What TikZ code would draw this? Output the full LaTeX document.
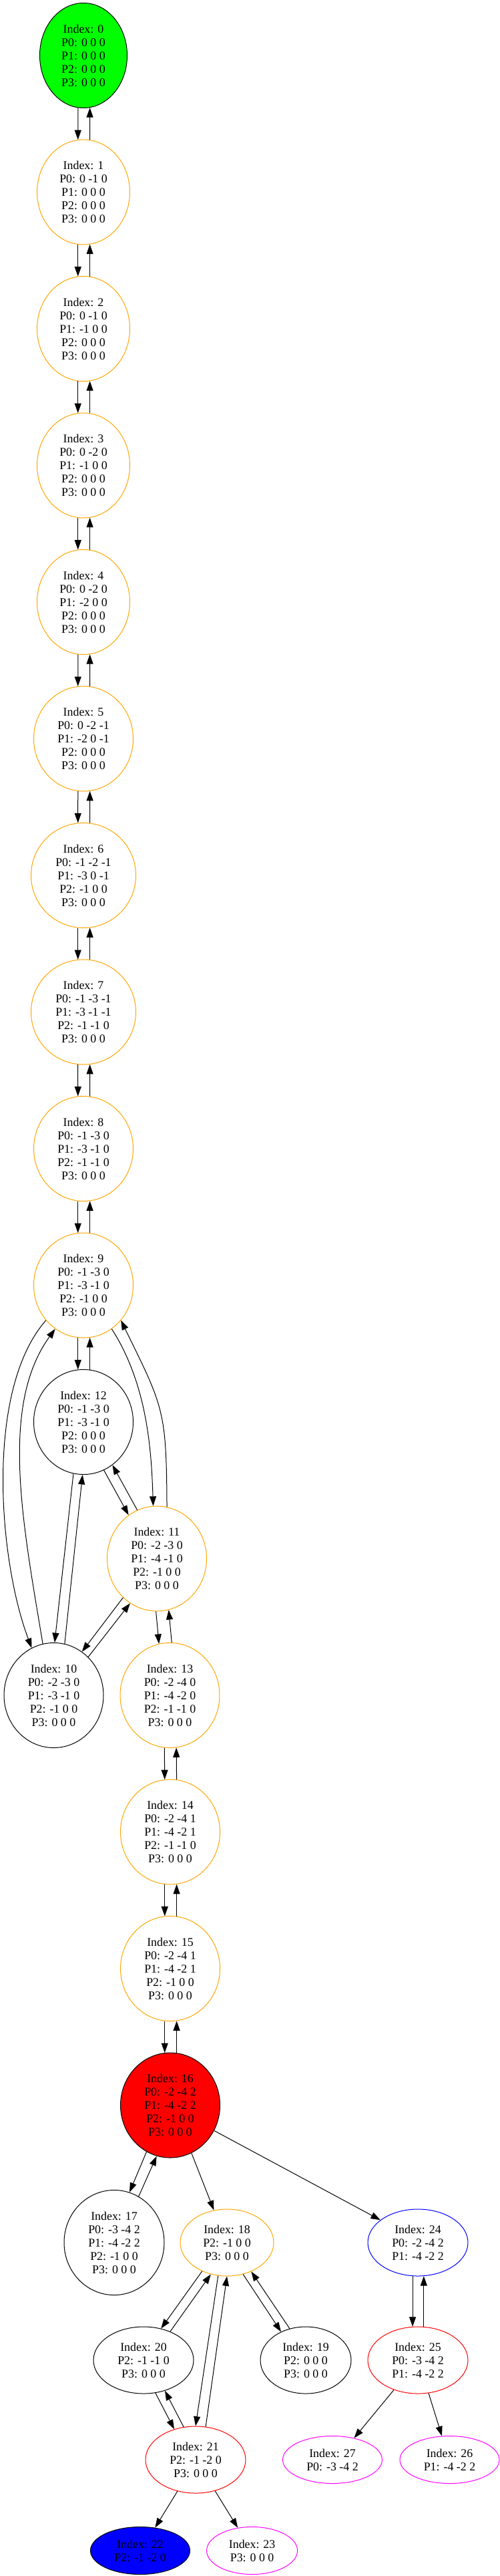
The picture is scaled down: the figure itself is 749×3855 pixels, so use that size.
\documentclass[tikz,border=0pt]{standalone}
\usepackage{fontspec}
\setmainfont{Liberation Serif}
\usetikzlibrary{shapes.geometric,arrows.meta}
\definecolor{gvorange}{HTML}{FFA500}
\definecolor{gvgreen}{HTML}{00FF00}
\definecolor{gvred}{HTML}{FF0000}
\definecolor{gvblue}{HTML}{0000FF}
\definecolor{gvmagenta}{HTML}{FF00FF}
\newcommand\vpair[3]{%
  \draw[ed] (#1.{-90-#3}) -- (#2.{90+#3});
  \draw[ed] (#2.{90-#3}) -- (#1.{-90+#3});}
\begin{document}
\begin{tikzpicture}[x=0.75pt,y=-0.75pt,
  gv/.style={ellipse, draw, line width=0.75pt, inner sep=0pt, align=center,
             font=\fontsize{13.4}{15}\selectfont},
  rfive/.style={minimum width=#1, minimum height=117.75pt},
  rthree/.style={minimum width=#1, minimum height=75pt},
  rtwo/.style={minimum width=#1, minimum height=53.25pt},
  org/.style={draw=gvorange},
  redb/.style={draw=gvred},
  mag/.style={draw=gvmagenta},
  ed/.style={-{Triangle[length=10.8pt,width=7.5pt]}, line width=0.75pt}
]
\useasboundingbox (0,0) rectangle (749,3855);

\node[gv,rfive=98.25pt,fill=gvgreen] (n0) at (125,83) {Index: 0\\P0: 0 0 0\\P1: 0 0 0\\P2: 0 0 0\\P3: 0 0 0};
\node[gv,org,rfive=104.25pt] (n1) at (125,287.5) {Index: 1\\P0: 0 -1 0\\P1: 0 0 0\\P2: 0 0 0\\P3: 0 0 0};
\node[gv,org,rfive=104.25pt] (n2) at (125,492) {Index: 2\\P0: 0 -1 0\\P1: -1 0 0\\P2: 0 0 0\\P3: 0 0 0};
\node[gv,org,rfive=104.25pt] (n3) at (125,696.5) {Index: 3\\P0: 0 -2 0\\P1: -1 0 0\\P2: 0 0 0\\P3: 0 0 0};
\node[gv,org,rfive=104.25pt] (n4) at (125,901) {Index: 4\\P0: 0 -2 0\\P1: -2 0 0\\P2: 0 0 0\\P3: 0 0 0};
\node[gv,org,rfive=111.75pt] (n5) at (125,1105.5) {Index: 5\\P0: 0 -2 -1\\P1: -2 0 -1\\P2: 0 0 0\\P3: 0 0 0};
\node[gv,org,rfive=117.75pt] (n6) at (125,1310) {Index: 6\\P0: -1 -2 -1\\P1: -3 0 -1\\P2: -1 0 0\\P3: 0 0 0};
\node[gv,org,rfive=117.75pt] (n7) at (125,1514.5) {Index: 7\\P0: -1 -3 -1\\P1: -3 -1 -1\\P2: -1 -1 0\\P3: 0 0 0};
\node[gv,org,rfive=111.75pt] (n8) at (125,1719) {Index: 8\\P0: -1 -3 0\\P1: -3 -1 0\\P2: -1 -1 0\\P3: 0 0 0};
\node[gv,org,rfive=111.75pt] (n9) at (125,1923.5) {Index: 9\\P0: -1 -3 0\\P1: -3 -1 0\\P2: -1 0 0\\P3: 0 0 0};
\node[gv,rfive=111.75pt] (n12) at (125,2128) {Index: 12\\P0: -1 -3 0\\P1: -3 -1 0\\P2: 0 0 0\\P3: 0 0 0};
\node[gv,org,rfive=111.75pt] (n11) at (235,2332.5) {Index: 11\\P0: -2 -3 0\\P1: -4 -1 0\\P2: -1 0 0\\P3: 0 0 0};
\node[gv,rfive=111.75pt] (n10) at (80.5,2537) {Index: 10\\P0: -2 -3 0\\P1: -3 -1 0\\P2: -1 0 0\\P3: 0 0 0};
\node[gv,org,rfive=111.75pt] (n13) at (254.5,2537) {Index: 13\\P0: -2 -4 0\\P1: -4 -2 0\\P2: -1 -1 0\\P3: 0 0 0};
\node[gv,org,rfive=111.75pt] (n14) at (255,2741.5) {Index: 14\\P0: -2 -4 1\\P1: -4 -2 1\\P2: -1 -1 0\\P3: 0 0 0};
\node[gv,org,rfive=111.75pt] (n15) at (255,2946) {Index: 15\\P0: -2 -4 1\\P1: -4 -2 1\\P2: -1 0 0\\P3: 0 0 0};
\node[gv,rfive=111.75pt,fill=gvred] (n16) at (255,3150.5) {Index: 16\\P0: -2 -4 2\\P1: -4 -2 2\\P2: -1 0 0\\P3: 0 0 0};
\node[gv,rfive=112.5pt] (n17) at (171,3356) {Index: 17\\P0: -3 -4 2\\P1: -4 -2 2\\P2: -1 0 0\\P3: 0 0 0};
\node[gv,org,rthree=105pt] (n18) at (340,3356) {Index: 18\\P2: -1 0 0\\P3: 0 0 0};
\node[gv,draw=gvblue,rthree=112.5pt] (n24) at (626,3356) {Index: 24\\P0: -2 -4 2\\P1: -4 -2 2};
\node[gv,rthree=112.5pt] (n20) at (215,3532) {Index: 20\\P2: -1 -1 0\\P3: 0 0 0};
\node[gv,rthree=102pt] (n19) at (458,3532) {Index: 19\\P2: 0 0 0\\P3: 0 0 0};
\node[gv,redb,rthree=112.5pt] (n25) at (626,3532) {Index: 25\\P0: -3 -4 2\\P1: -4 -2 2};
\node[gv,redb,rthree=112.5pt] (n21) at (293,3681) {Index: 21\\P2: -1 -2 0\\P3: 0 0 0};
\node[gv,mag,rtwo=111.75pt] (n27) at (498,3681) {Index: 27\\P0: -3 -4 2};
\node[gv,mag,rtwo=111.75pt] (n26) at (673.5,3681) {Index: 26\\P1: -4 -2 2};
\node[gv,rtwo=111.75pt,fill=gvblue] (n22) at (210,3817) {Index: 22\\P2: -1 -2 0};
\node[gv,mag,rtwo=102pt] (n23) at (377.6,3817) {Index: 23\\P3: 0 0 0};

\vpair{n0}{n1}{6.6}
\vpair{n1}{n2}{6.6}
\vpair{n2}{n3}{6.6}
\vpair{n3}{n4}{6.6}
\vpair{n4}{n5}{6.6}
\vpair{n5}{n6}{6.6}
\vpair{n6}{n7}{6.6}
\vpair{n7}{n8}{6.6}
\vpair{n8}{n9}{6.6}
\vpair{n9}{n12}{6.6}
\vpair{n13}{n14}{6.6}
\vpair{n14}{n15}{6.6}
\vpair{n15}{n16}{6.6}
\vpair{n24}{n25}{9.6}

\draw[ed] (n9.-137.5) .. controls (-22.5,2079.6) and (-2.5,2333.6) .. (n10.115.2);
\draw[ed] (n10.102.6) .. controls (34.2,2280.2) and (-0.9,2103.8) .. (n9.-123.7);
\draw[ed] (n9.-57.8) .. controls (222.3,2073.8) and (227,2177.8) .. (n11.94.2);
\draw[ed] (n11.79.5) .. controls (249.3,2109.9) and (245,2106.2) .. (n9.-43.8);
\draw[ed] (n12.-67.4) -- (n11.123.6);
\draw[ed] (n11.112.4) -- (n12.-56.3);
\draw[ed] (n12.-101.3) -- (n10.89.1);
\draw[ed] (n10.78.1) -- (n12.-91.2);
\draw[ed] (n11.-131.2) -- (n10.57.7);
\draw[ed] (n10.48) -- (n11.-121.3);
\draw[ed] (n11.-91.2) -- (n13.102.3);
\draw[ed] (n13.88.9) -- (n11.-77.1);
\draw[ed] (n16.-117.5) -- (n17.73.5);
\draw[ed] (n17.62) -- (n16.-105);
\draw[ed] (n16.-66.8) -- (n18.112.5);
\draw[ed] (n16.-30) -- (n24.149.5);
\draw[ed] (n18.-131.5) -- (n20.61.1);
\draw[ed] (n20.47.3) -- (n18.-117.2);
\draw[ed] (n18.-105.4) -- (n21.90.6);
\draw[ed] (n21.73) -- (n18.-90.5);
\draw[ed] (n18.-63.4) -- (n19.131.4);
\draw[ed] (n19.117.2) -- (n18.-50);
\draw[ed] (n20.-70.4) -- (n21.125.6);
\draw[ed] (n21.110.3) -- (n20.-55.4);
\draw[ed] (n25.-129.2) -- (n27.45.8);
\draw[ed] (n25.-72.6) -- (n26.108.2);
\draw[ed] (n21.-120.7) -- (n22.57.4);
\draw[ed] (n21.-58.7) -- (n23.122.5);
\end{tikzpicture}
\end{document}
